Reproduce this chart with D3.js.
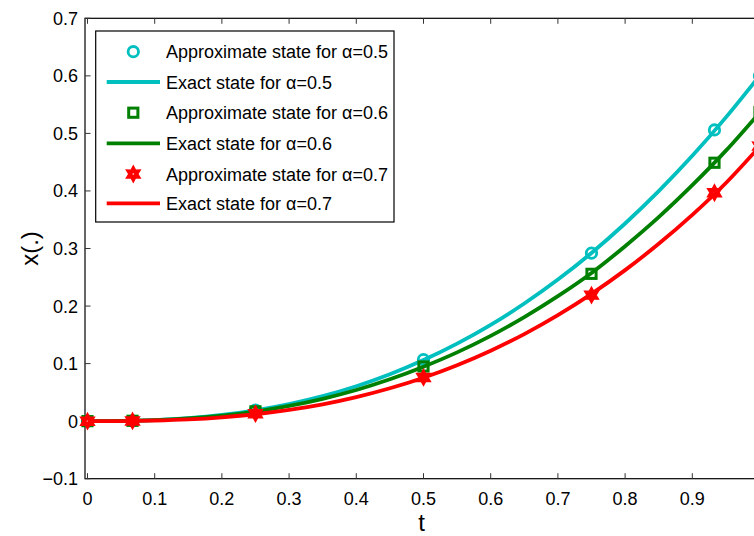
<!DOCTYPE html>
<html><head><meta charset="utf-8">
<script src="https://cdn.jsdelivr.net/npm/d3@7"></script>
<style>
html,body{margin:0;padding:0;background:#fff;overflow:hidden}
svg{display:block}
text{font-family:"Liberation Sans",Arial,Helvetica,sans-serif;fill:#000}
</style></head><body>
<svg id="c" width="754" height="536"></svg>
<script>
// ---- data ----
const tExact = [0,0.05,0.1,0.15,0.2,0.25,0.3,0.35,0.4,0.45,0.5,0.55,0.6,0.65,0.7,0.75,0.8,0.85,0.9,0.95,1];
const exact05 = [0,0.0003,0.0019,0.0052,0.0107,0.0188,0.0296,0.0435,0.0607,0.0815,0.1061,0.1346,0.1673,0.2044,0.2460,0.2923,0.3434,0.3997,0.4610,0.5278,0.6000];
const exact06 = [0,0.0003,0.0017,0.0047,0.0096,0.0167,0.0264,0.0388,0.0541,0.0727,0.0946,0.1195,0.1482,0.1808,0.2172,0.2575,0.3040,0.3545,0.4100,0.4700,0.5360];
const exact07 = [0,0.0002,0.0011,0.0031,0.0067,0.0120,0.0195,0.0293,0.0418,0.0571,0.0755,0.0972,0.1224,0.1513,0.1842,0.2212,0.2624,0.3082,0.3585,0.4138,0.4770];
const tApprox = [0,0.067,0.25,0.5,0.75,0.933,1];
const approx05 = [0,0.0007,0.019,0.107,0.292,0.506,0.600];
const approx06 = [0,0.0006,0.017,0.095,0.256,0.449,0.537];
const approx07 = [0,0.0004,0.013,0.076,0.219,0.397,0.478];
const xTicks = [0,0.1,0.2,0.3,0.4,0.5,0.6,0.7,0.8,0.9,1];
const xTickLabels = ["0","0.1","0.2","0.3","0.4","0.5","0.6","0.7","0.8","0.9",""];
const yTicks = [-0.1,0,0.1,0.2,0.3,0.4,0.5,0.6,0.7];
const yTickLabels = ["\u22120.1","0","0.1","0.2","0.3","0.4","0.5","0.6","0.7"];
const legendLabels = ["Approximate state for \u03b1=0.5","Exact state for \u03b1=0.5","Approximate state for \u03b1=0.6","Exact state for \u03b1=0.6","Approximate state for \u03b1=0.7","Exact state for \u03b1=0.7"];
const colors = ["#00bfbf","#008000","#ff0000"];

// ---- layout ----
const L=85, R=759.5, T=18.3, B=478.7;
const svg = d3.select("#c");
const x = d3.scaleLinear().domain([-0.0037,1]).range([L,R]);
const y = d3.scaleLinear().domain([-0.1,0.7]).range([B,T]);

const g = svg.append("g");
g.append("rect").attr("x",L).attr("y",T).attr("width",R-L).attr("height",B-T)
 .attr("fill","none").attr("stroke","#000").attr("stroke-width",1.2);

const tl = 5.5;
xTicks.forEach((v,i)=>{
  const px = x(v);
  g.append("line").attr("x1",px).attr("x2",px).attr("y1",B).attr("y2",B-tl).attr("stroke","#333");
  g.append("line").attr("x1",px).attr("x2",px).attr("y1",T).attr("y2",T+tl).attr("stroke","#333");
  if(xTickLabels[i]) g.append("text").attr("x",px).attr("y",505).attr("text-anchor","middle").attr("font-size",18).text(xTickLabels[i]);
});
yTicks.forEach((v,i)=>{
  const py = y(v);
  g.append("line").attr("x1",L).attr("x2",L+tl).attr("y1",py).attr("y2",py).attr("stroke","#333");
  g.append("line").attr("x1",R).attr("x2",R-tl).attr("y1",py).attr("y2",py).attr("stroke","#333");
  g.append("text").attr("x",78).attr("y",py+6.5).attr("text-anchor","end").attr("font-size",18).text(yTickLabels[i]);
});
svg.append("text").attr("x",421.5).attr("y",531).attr("text-anchor","middle").attr("font-size",24).text("t");
svg.append("text").attr("transform","translate(38,248.5) rotate(-90)").attr("text-anchor","middle").attr("font-size",24).text("x(.)");

function hexagram(ro, ri){
  const pts=[];
  for(let i=0;i<12;i++){
    const a = -Math.PI/2 + i*Math.PI/6;
    const r = i%2===0 ? ro : ri;
    pts.push([r*Math.cos(a), r*Math.sin(a)]);
  }
  return "M"+pts.map(p=>p[0].toFixed(2)+","+p[1].toFixed(2)).join("L")+"Z";
}
function drawMarker(sel, kind, cx, cy, col){
  if(kind==="o"){
    sel.append("circle").attr("cx",cx).attr("cy",cy).attr("r",5.2)
      .attr("fill","none").attr("stroke",col).attr("stroke-width",2.8);
  } else if(kind==="s"){
    sel.append("rect").attr("x",cx-4.6).attr("y",cy-4.6).attr("width",9.2).attr("height",9.2)
      .attr("fill","none").attr("stroke",col).attr("stroke-width",3);
  } else {
    sel.append("path").attr("d",hexagram(8.2,4.6)).attr("transform",`translate(${cx},${cy})`)
      .attr("fill",col).attr("stroke",col).attr("stroke-width",1.2).attr("stroke-linejoin","miter");
    sel.append("circle").attr("cx",cx).attr("cy",cy).attr("r",0.8).attr("fill","#fff");
  }
}

const line = d3.line().x(d=>x(d[0])).y(d=>y(d[1])).curve(d3.curveMonotoneX);
const series = [
  {approx:approx05, exact:exact05, kind:"o", col:colors[0]},
  {approx:approx06, exact:exact06, kind:"s", col:colors[1]},
  {approx:approx07, exact:exact07, kind:"h", col:colors[2]}
];
const pg = svg.append("g");
series.forEach(s=>{
  tApprox.forEach((t,i)=>drawMarker(pg, s.kind, x(t), y(s.approx[i]), s.col));
  pg.append("path").attr("d", line(tExact.map((t,i)=>[t,s.exact[i]])))
    .attr("fill","none").attr("stroke",s.col).attr("stroke-width",3.8);
});

const lg = svg.append("g");
lg.append("rect").attr("x",95.7).attr("y",31).attr("width",394-95.7).attr("height",222-31)
  .attr("fill","#fff").attr("stroke","#000").attr("stroke-width",1.2);
const rowY = [51.7,82,112.7,143.3,174,203.3];
legendLabels.forEach((lab,i)=>{
  const s = series[Math.floor(i/2)];
  const cy = rowY[i];
  if(i%2===0){ drawMarker(lg, s.kind, 133.3, cy, s.col); }
  else { lg.append("line").attr("x1",106.7).attr("x2",160).attr("y1",cy).attr("y2",cy)
          .attr("stroke",s.col).attr("stroke-width",3.8); }
  lg.append("text").attr("x",166).attr("y",cy+6.5).attr("font-size",18).text(lab);
});
</script>
</body></html>
